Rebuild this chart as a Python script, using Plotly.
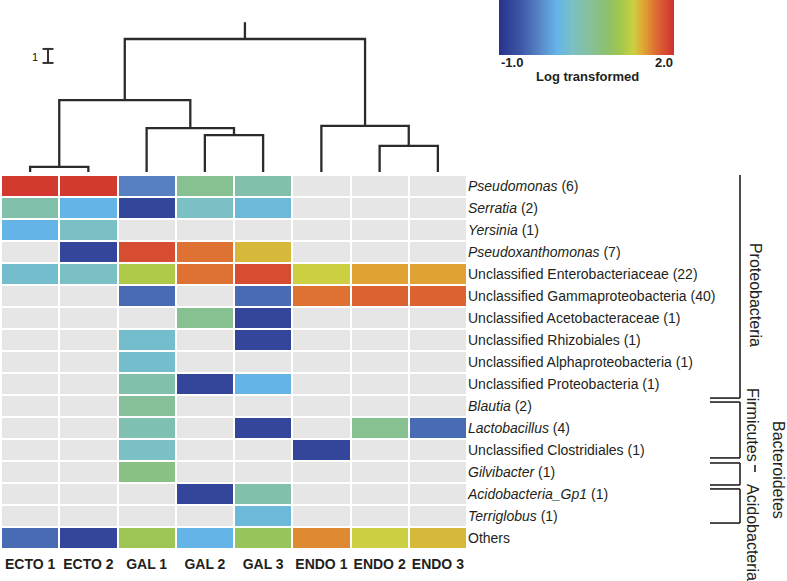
import plotly.graph_objects as go

W, H = 787, 581
FONT = "Liberation Sans, Arial, sans-serif"
TXT = "#231f20"

samples = ["ECTO 1", "ECTO 2", "GAL 1", "GAL 2", "GAL 3", "ENDO 1", "ENDO 2", "ENDO 3"]
taxa = ["<i>Pseudomonas</i> (6)", "<i>Serratia</i> (2)", "<i>Yersinia</i> (1)",
        "<i>Pseudoxanthomonas</i> (7)", "Unclassified Enterobacteriaceae (22)",
        "Unclassified Gammaproteobacteria (40)", "Unclassified Acetobacteraceae (1)",
        "Unclassified Rhizobiales (1)", "Unclassified Alphaproteobacteria (1)",
        "Unclassified Proteobacteria (1)", "<i>Blautia</i> (2)", "<i>Lactobacillus</i> (4)",
        "Unclassified Clostridiales (1)", "<i>Gilvibacter</i> (1)",
        "<i>Acidobacteria_Gp1</i> (1)", "<i>Terriglobus</i> (1)", "Others"]
N = None
values = [
    [1.95, 1.95, -0.34, 0.62, 0.44, N, N, N],
    [0.44, 0.0, -0.8, 0.26, 0.1, N, N, N],
    [0.0, 0.26, N, N, N, N, N, N],
    [N, -0.8, 1.85, 1.67, 1.4, N, N, N],
    [0.19, 0.26, 1.16, 1.67, 1.85, 1.31, 1.49, 1.49],
    [N, N, -0.49, N, -0.49, 1.67, 1.73, 1.73],
    [N, N, N, 0.62, -0.8, N, N, N],
    [N, N, 0.19, N, -0.8, N, N, N],
    [N, N, 0.19, N, N, N, N, N],
    [N, N, 0.44, -0.8, 0.0, N, N, N],
    [N, N, 0.56, N, N, N, N, N],
    [N, N, 0.38, N, -0.8, N, 0.62, -0.49],
    [N, N, 0.26, N, N, -0.8, N, N],
    [N, N, 0.71, N, N, N, N, N],
    [N, N, N, -0.8, 0.44, N, N, N],
    [N, N, N, N, 0.1, N, N, N],
    [-0.49, -0.8, 1.04, 0.0, 0.98, 1.58, 1.31, 1.4],
]

# dendrogram merges: (left node, right node, height); leaves are 0..7
merges = [(0, 1, 0.36), (3, 4, 2.64), (2, 9, 3.14), (8, 10, 5.14),
          (6, 7, 1.86), (5, 12, 3.29), (11, 13, 9.5)]
root_top = 10.7

# phylum brackets in row units (start, end) and label positions
phyla = ["Proteobacteria", "Firmicutes", "Bacteroidetes", "Acidobacteria"]
phylum_spans = [(-0.86, 9.64), (9.82, 12.36), (12.59, 13.59), (13.77, 15.32)]
phylum_label_rows = [4.95, 10.86, 12.91, 15.73]
phylum_label_x = [755, 752, 779, 753]

colorscale = [[0.0, "#27338a"], [0.12, "#3c56a6"], [0.22, "#5680c2"], [0.33, "#64b4e8"],
              [0.42, "#7ac0c4"], [0.52, "#86c09a"], [0.62, "#8cc06c"], [0.70, "#a4c84c"],
              [0.77, "#cccf42"], [0.83, "#e0a232"], [0.90, "#dc6a32"], [1.0, "#d03030"]]

nr, nc = len(taxa), len(samples)
xs = list(range(nc))
ys = list(range(nr))
missing = [[1 if v is None else None for v in row] for row in values]

fig = go.Figure()
fig.add_trace(go.Heatmap(z=missing, x=xs, y=ys, colorscale=[[0, "#e6e6e6"], [1, "#e6e6e6"]],
                         showscale=False, xgap=2, ygap=2, hoverinfo="skip"))
fig.add_trace(go.Heatmap(
    z=values, x=xs, y=ys, zmin=-1, zmax=2, colorscale=colorscale, xgap=2, ygap=2,
    colorbar=dict(orientation="h", x=586.5 / W, xanchor="center", y=1, yanchor="top",
                  yref="paper", xref="paper",
                  len=175, lenmode="pixels", thickness=55, thicknessmode="pixels",
                  outlinewidth=0, showticklabels=False, ticks="", xpad=0, ypad=0)))

# dendrogram
pos = {i: (float(i), 0.0) for i in range(nc)}
dx, dy = [], []
nid = nc
for a, b, h in merges:
    xa, ha = pos[a]
    xb, hb = pos[b]
    dx += [xa, xa, xb, xb, None]
    dy += [ha, h, h, hb, None]
    pos[nid] = ((xa + xb) / 2, h)
    nid += 1
rx, rh = pos[nid - 1]
dx += [rx, rx, None]
dy += [rh, root_top, None]
fig.add_trace(go.Scatter(x=dx, y=dy, mode="lines", xaxis="x2", yaxis="y2",
                         line=dict(color="#2b2b2b", width=2.3), hoverinfo="skip", showlegend=False))

# scale bar (1 unit)
sbx, sby, cap = 0.307, 7.79, 0.094
fig.add_trace(go.Scatter(x=[sbx, sbx, None, sbx - cap, sbx + cap, None, sbx - cap, sbx + cap],
                         y=[sby, sby + 1, None, sby, sby, None, sby + 1, sby + 1],
                         mode="lines", xaxis="x2", yaxis="y2",
                         line=dict(color="#333333", width=2), hoverinfo="skip", showlegend=False))

ann = []
ann.append(dict(x=0.084, y=sby + 0.45, xref="x2", yref="y2", text="1", showarrow=False,
                font=dict(size=11, color="#111111", family=FONT)))
# colorbar labels
ann.append(dict(x=499 / W, y=1 - 62 / H, xref="paper", yref="paper", text="<b>-1.0</b>",
                xanchor="left", yanchor="middle", showarrow=False,
                font=dict(size=13, color=TXT, family=FONT)))
ann.append(dict(x=675 / W, y=1 - 62 / H, xref="paper", yref="paper", text="<b>2.0</b>",
                xanchor="right", yanchor="middle", showarrow=False,
                font=dict(size=13, color=TXT, family=FONT)))
ann.append(dict(x=587 / W, y=1 - 76 / H, xref="paper", yref="paper", text="<b>Log transformed</b>",
                xanchor="center", yanchor="middle", showarrow=False,
                font=dict(size=13, color=TXT, family=FONT)))

shapes = []
bx, tx0 = 740 / W, 710 / W
for (a, b) in phylum_spans:
    for seg in [(bx, a, bx, b), (tx0, a, bx, a), (tx0, b, bx, b)]:
        shapes.append(dict(type="line", xref="paper", yref="y", x0=seg[0], y0=seg[1],
                           x1=seg[2], y1=seg[3], line=dict(color=TXT, width=1.6)))
for name, r, px in zip(phyla, phylum_label_rows, phylum_label_x):
    ann.append(dict(x=px / W, y=r, xref="paper", yref="y", text=name, textangle=90,
                    showarrow=False, xanchor="center", yanchor="middle",
                    font=dict(size=16, color=TXT, family=FONT)))
shapes.append(dict(type="line", xref="paper", yref="y", x0=755 / W, x1=755 / W, y0=12.68, y1=13.0,
                   line=dict(color=TXT, width=1.6)))

xdom = [1 / W, 467 / W]
fig.update_layout(
    width=W, height=H, margin=dict(l=0, r=0, t=0, b=0, autoexpand=False),
    paper_bgcolor="white", plot_bgcolor="white", showlegend=False,
    font=dict(family=FONT, color=TXT),
    xaxis=dict(domain=xdom, range=[-0.5, nc - 0.5], tickvals=xs,
               ticktext=[f"<b>{s}</b>" for s in samples], tickfont=dict(size=14, color=TXT),
               ticklabelstandoff=5,
               showgrid=False, zeroline=False, showline=False, ticks="", fixedrange=True),
    yaxis=dict(domain=[1 - 549 / H, 1 - 175 / H], range=[nr - 0.5, -0.5], tickvals=ys,
               ticktext=taxa, side="right", tickfont=dict(size=14, color=TXT),
               showgrid=False, zeroline=False, showline=False, ticks="", fixedrange=True),
    xaxis2=dict(domain=xdom, range=[-0.5, nc - 0.5], anchor="y2", visible=False),
    yaxis2=dict(domain=[1 - 172 / H, 1], range=[0, 172 / 14], anchor="x2", visible=False),
    annotations=ann, shapes=shapes,
)
fig.write_html("out.html", config={"displayModeBar": False},
               post_script="document.body.style.margin='0';document.body.style.overflow='hidden';")
